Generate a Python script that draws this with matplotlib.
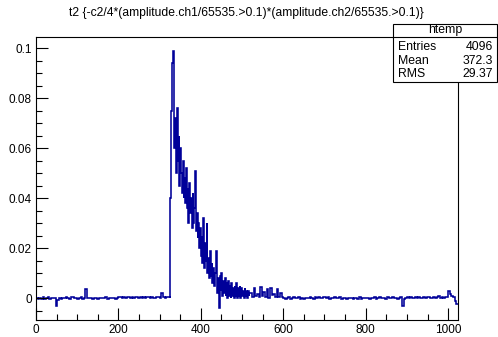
import numpy as np
import matplotlib
matplotlib.use("Agg")
import matplotlib.pyplot as plt
from matplotlib.ticker import MultipleLocator, FormatStrFormatter

plt.rcParams['font.family'] = ['Liberation Sans', 'DejaVu Sans']

# histogram contents, in units of 1e-4
# baseline before the pulse, 4 samples per value (0..320)
pre_vals = [0, -3, 2, -2, 4, -4, 1, 3, -2, 0, 2, -1, -30, -8, 2,
            -3, 2, -1, 4, 0, -2, 3, 5, -1, 1, -3, 2, 4, -2, 1,
            35, 2, -1, 0, -3, 1, 2, -2, 0, -1, 1, 0, 3, -2, -1, 2, 0, 1, -2, 0,
            3, 5, 2, 6, 1, 4, 3, 0, 5, 2, 6, 3, 1, 4, 2, 5, 0, 3, 4, 1,
            5, 2, -1, 3, 4, 1, 20, 4, 2, 6]
# pulse region, 2 samples per value (320..520)
pulse_vals = [3, 6, 2, 400, 750, 940, 990, 850, 600, 720,
              500, 760, 550, 650, 450, 600, 500, 420, 550, 400,
              480, 380, 520, 360, 440, 300, 460, 340, 400, 280,
              420, 300, 360, 510, 270, 340, 240, 300, 200, 280,
              170, 250, 140, 320, 120, 220, 150, 300, 100, 160,
              80, 190, 90, 140, 60, 120, 50, 100, 190, 90,
              20, 80, -40, 90, 30, 100, 10, 70, 20, 80,
              10, 60, 0, 70, 10, 50, 0, 60, 10, 40,
              0, 50, 10, 60, 0, 40, 10, 50, 0, 40,
              10, 30, 0, 40, 10, 30, 0, 30, 10, 20]
# tail and baseline after the pulse, 4 samples per value (520..1024)
post_vals = [20, 5, 40, 8, 15, 3, 45, 10, 25, 5, 35, 2, 42, 12, 18, 4, 38, 6, 20, 3,
             2, -3, 1, 4, -2, 0, 3, -1, 2, 5, -2, 1, -3, 0, 2, -1, 4, 1, -2, 3,
             0, 5, 2, -1, 3, 6, 1, 4, -2, 2, 0, 3, -1, 1, 5, -3, 2, 0, -2, 1,
             -1, 2, -3, 0, 1, -2, 3, -4, 0, 2, -1, 1, -3, 2, 0, 4, -2, 1, 3, -1,
             2, 0, -2, 3, 1, -1, 4, 0, 2, -3, 1, 3, -30, -2, 1, 3, 0, 4, 2, -1,
             3, 1, 5, 0, 2, 4, -1, 3, 6, 1, 2, 5, 0, 3, 7, 2, 4, 1, 6, 3,
             30, 15, 8, 4, -10, -22]

title = "t2 {-c2/4*(amplitude.ch1/65535.>0.1)*(amplitude.ch2/65535.>0.1)}"
stats_name = "htemp"
stats_rows = [("Entries", "4096"), ("Mean", "372.3"), ("RMS", "29.37")]

values = np.array(pre_vals + pulse_vals + post_vals) * 1e-4
edges = np.concatenate([np.arange(0, 320, 4), np.arange(320, 520, 2), np.arange(520, 1025, 4)])

fig = plt.figure(figsize=(4.98, 3.37), dpi=100)
ax = fig.add_axes([0.0723, 0.0504, 0.8474, 0.8398])
ax.stairs(values, edges, color='#000099', lw=1.15, baseline=None)

ax.set_xlim(0, 1024)
ax.set_ylim(-0.0088, 0.1044)
ax.xaxis.set_major_locator(MultipleLocator(200))
ax.xaxis.set_minor_locator(MultipleLocator(50))
ax.yaxis.set_major_locator(MultipleLocator(0.02))
ax.yaxis.set_minor_locator(MultipleLocator(0.005))
ax.yaxis.set_major_formatter(FormatStrFormatter('%g'))
ax.tick_params(which='both', direction='in', top=False, right=False, labelsize=8.5, width=0.8)
ax.tick_params(which='major', length=8.5, pad=3)
ax.tick_params(which='minor', length=4.3)
for s in ax.spines.values():
    s.set_linewidth(0.8)

fig.text(0.494, 0.961, title, ha='center', va='center', fontsize=8.7)

# stats box
x0, x1 = 393 / 498, 497 / 498
ytop, yhead, ybot = 1 - 24 / 337, 1 - 37 / 337, 1 - 82 / 337
fig.patches.append(plt.Rectangle((x0, ybot), x1 - x0, ytop - ybot, transform=fig.transFigure,
                                 fill=True, facecolor='white', edgecolor='black', lw=0.8, zorder=5))
fig.lines.append(plt.Line2D([x0, x1], [yhead, yhead], transform=fig.transFigure, color='black', lw=0.8, zorder=6))
fig.text((x0 + x1) / 2, (ytop + yhead) / 2, stats_name, ha='center', va='center', fontsize=8.8, zorder=7)
for i, (lab, val) in enumerate(stats_rows):
    y = 1 - (47 + 13.5 * i) / 337
    fig.text(398 / 498, y, lab, ha='left', va='center', fontsize=8.8, zorder=7)
    fig.text(493 / 498, y, val, ha='right', va='center', fontsize=8.8, zorder=7)

fig.savefig("out.png", dpi=100)
